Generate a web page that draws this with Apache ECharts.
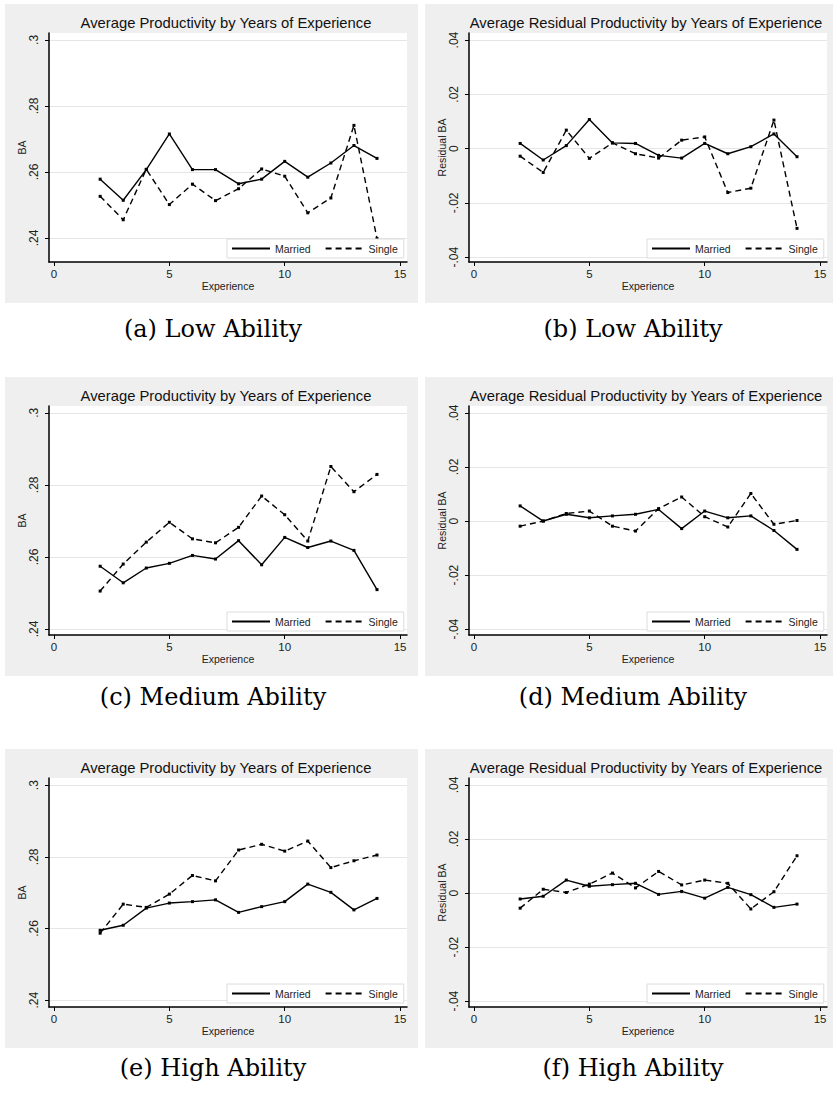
<!DOCTYPE html>
<html>
<head>
<meta charset="utf-8">
<script src="https://cdn.jsdelivr.net/npm/echarts@6/dist/echarts.min.js"></script>
<style>
html, body { margin: 0; padding: 0; background: #ffffff; }
#chart { width: 833px; height: 1095px; }
</style>
</head>
<body>
<div id="chart"></div>
<script>
// ---------------- data ----------------
const experience = [2, 3, 4, 5, 6, 7, 8, 9, 10, 11, 12, 13, 14];

// (a) Low ability, average productivity
const lowMarried = [0.2578, 0.2514, 0.2607, 0.2715, 0.2607, 0.2607, 0.2564, 0.2578, 0.2632, 0.2584, 0.2627, 0.2680, 0.2641];
const lowSingle  = [0.2526, 0.2455, 0.2608, 0.2501, 0.2563, 0.2513, 0.2549, 0.2609, 0.2587, 0.2476, 0.2521, 0.2741, 0.2398];
// (b) Low ability, residual productivity
const lowResMarried = [0.0019, -0.0042, 0.0011, 0.0107, 0.0021, 0.0019, -0.0025, -0.0035, 0.0019, -0.0019, 0.0007, 0.0054, -0.0030];
const lowResSingle  = [-0.0028, -0.0088, 0.0068, -0.0036, 0.0021, -0.0019, -0.0035, 0.0031, 0.0043, -0.0162, -0.0146, 0.0105, -0.0294];
// (c) Medium ability, average productivity
const medMarried = [0.2574, 0.2528, 0.2569, 0.2582, 0.2604, 0.2594, 0.2645, 0.2578, 0.2654, 0.2626, 0.2644, 0.2618, 0.2509];
const medSingle  = [0.2505, 0.2580, 0.2641, 0.2696, 0.2650, 0.2639, 0.2682, 0.2769, 0.2717, 0.2644, 0.2851, 0.2781, 0.2829];
// (d) Medium ability, residual productivity
const medResMarried = [0.0056, 0.0000, 0.0025, 0.0012, 0.0019, 0.0025, 0.0043, -0.0028, 0.0037, 0.0012, 0.0019, -0.0035, -0.0105];
const medResSingle  = [-0.0019, 0.0000, 0.0028, 0.0037, -0.0019, -0.0037, 0.0046, 0.0089, 0.0016, -0.0022, 0.0102, -0.0012, 0.0002];
// (e) High ability, average productivity
const highMarried = [0.2595, 0.2609, 0.2657, 0.2671, 0.2675, 0.2680, 0.2645, 0.2661, 0.2675, 0.2724, 0.2701, 0.2652, 0.2684];
const highSingle  = [0.2587, 0.2668, 0.2659, 0.2696, 0.2748, 0.2733, 0.2819, 0.2835, 0.2816, 0.2844, 0.2770, 0.2789, 0.2805];
// (f) High ability, residual productivity
const highResMarried = [-0.0022, -0.0012, 0.0048, 0.0025, 0.0031, 0.0036, -0.0005, 0.0006, -0.0019, 0.0021, -0.0006, -0.0053, -0.0041];
const highResSingle  = [-0.0056, 0.0014, 0.0002, 0.0033, 0.0074, 0.0019, 0.0080, 0.0030, 0.0048, 0.0036, -0.0059, 0.0005, 0.0138];

const xTicks = [0, 5, 10, 15];
const levelTicks = [0.24, 0.26, 0.28, 0.3];
const residTicks = [-0.04, -0.02, 0, 0.02, 0.04];

const seriesNames = ['Married', 'Single'];
const titleLevel = 'Average Productivity by Years of Experience';
const titleResid = 'Average Residual Productivity by Years of Experience';
const captions = ['(a) Low Ability', '(b) Low Ability', '(c) Medium Ability', '(d) Medium Ability', '(e) High Ability', '(f) High Ability'];

// ---------------- layout / config ----------------
const panels = [
  { m: lowMarried,     s: lowSingle,     col: 0, row: 0, ticks: levelTicks, yName: 'BA',          title: titleLevel, min: 0.2327, max: 0.3021 },
  { m: lowResMarried,  s: lowResSingle,  col: 1, row: 0, ticks: residTicks, yName: 'Residual BA', title: titleResid, min: -0.0418, max: 0.0426 },
  { m: medMarried,     s: medSingle,     col: 0, row: 1, ticks: levelTicks, yName: 'BA',          title: titleLevel, min: 0.2383, max: 0.3019 },
  { m: medResMarried,  s: medResSingle,  col: 1, row: 1, ticks: residTicks, yName: 'Residual BA', title: titleResid, min: -0.0422, max: 0.0426 },
  { m: highMarried,    s: highSingle,    col: 0, row: 2, ticks: levelTicks, yName: 'BA',          title: titleLevel, min: 0.2381, max: 0.3020 },
  { m: highResMarried, s: highResSingle, col: 1, row: 2, ticks: residTicks, yName: 'Residual BA', title: titleResid, min: -0.0422, max: 0.0426 }
];

const colX = [0, 420];
const rowTop = [4, 377, 749];       // top of gray panel
const captionY = [329, 697, 1068];
const FONT = '"Liberation Sans", Arial, Helvetica, sans-serif';

function fmt(v) {
  const s = String(+Number(v).toFixed(4));
  return s.replace(/^(-?)0\./, '$1.');
}

const grids = [], xAxes = [], yAxes = [], series = [], legends = [], graphics = [];

panels.forEach((p, i) => {
  const ox = colX[p.col];
  const oy = rowTop[p.row];
  const gLeft = ox + 49, gTop = oy + 29, gW = 358, gH = 229;

  // gray outer panel
  graphics.push({
    type: 'rect', z: -10, silent: true,
    shape: { x: ox + 5, y: oy, width: 413, height: 299 },
    style: { fill: '#efefef' }
  });
  // panel title
  graphics.push({
    type: 'text', z: 10, silent: true,
    x: ox + 226, y: oy + 19,
    style: { text: p.title, fill: '#111', font: '14.8px ' + FONT, align: 'center', verticalAlign: 'middle' }
  });
  // caption
  graphics.push({
    type: 'text', z: 10, silent: true,
    x: ox + 213, y: captionY[p.row],
    style: { text: captions[i], fill: '#000', font: '24px "DejaVu Serif", "Liberation Serif", serif', align: 'center', verticalAlign: 'middle' }
  });

  grids.push({
    left: gLeft, top: gTop, width: gW, height: gH,
    show: true, backgroundColor: '#ffffff', borderWidth: 0
  });

  xAxes.push({
    type: 'value', gridIndex: i, min: -0.217, max: 15.3,
    name: 'Experience', nameLocation: 'middle', nameGap: 16,
    nameTextStyle: { fontFamily: FONT, fontSize: 10.5, color: '#222' },
    axisLine: { show: true, onZero: false, lineStyle: { color: '#000', width: 1.5 } },
    axisTick: { show: true, customValues: xTicks, length: 4, lineStyle: { color: '#000', width: 1 } },
    axisLabel: { customValues: xTicks, margin: 6, fontFamily: FONT, fontSize: 11.5, color: '#222', formatter: fmt },
    splitLine: { show: false }
  });

  yAxes.push({
    type: 'value', gridIndex: i, min: p.min, max: p.max,
    name: p.yName, nameLocation: 'middle', nameGap: 21, nameRotate: 90,
    nameTextStyle: { fontFamily: FONT, fontSize: 10.5, color: '#222' },
    axisLine: { show: true, onZero: false, lineStyle: { color: '#000', width: 1.5 } },
    axisTick: { show: true, customValues: p.ticks, length: 4, lineStyle: { color: '#000', width: 1 } },
    axisLabel: { customValues: p.ticks, rotate: 90, margin: 9, fontFamily: FONT, fontSize: 12, color: '#222', formatter: fmt },
    splitLine: { show: true, lineStyle: { color: '#e6e6e6', width: 1.2 } }
  });

  const mk = (name, vals, dashed) => ({
    type: 'line', name: name, xAxisIndex: i, yAxisIndex: i,
    data: experience.map((x, k) => [x, vals[k]]),
    symbol: 'rect', symbolSize: 3, showAllSymbol: true,
    itemStyle: { color: '#000' },
    lineStyle: { color: '#000', width: 1.4, type: dashed ? [6, 4] : 'solid' },
    emphasis: { disabled: true },
    clip: false
  });
  series.push(mk(seriesNames[0], p.m, false));
  series.push(mk(seriesNames[1], p.s, true));

  legends.push({
    data: seriesNames.slice(),
    left: gLeft + 178, top: gTop + gH - 23,
    orient: 'horizontal',
    padding: [4, 6, 4, 4],
    itemWidth: 38, itemHeight: 12, itemGap: 14,
    backgroundColor: '#ffffff', borderColor: '#dcdcdc', borderWidth: 1,
    selectedMode: false,
    itemStyle: { opacity: 0 },
    textStyle: { fontFamily: FONT, fontSize: 10.5, color: '#222', padding: [0, 0, 0, 0] }
  });
});

const chart = echarts.init(document.getElementById('chart'), null, { renderer: 'svg', width: 833, height: 1095 });
chart.setOption({
  animation: false,
  backgroundColor: '#ffffff',
  graphic: graphics,
  grid: grids,
  xAxis: xAxes,
  yAxis: yAxes,
  legend: legends,
  series: series
});
</script>
</body>
</html>
